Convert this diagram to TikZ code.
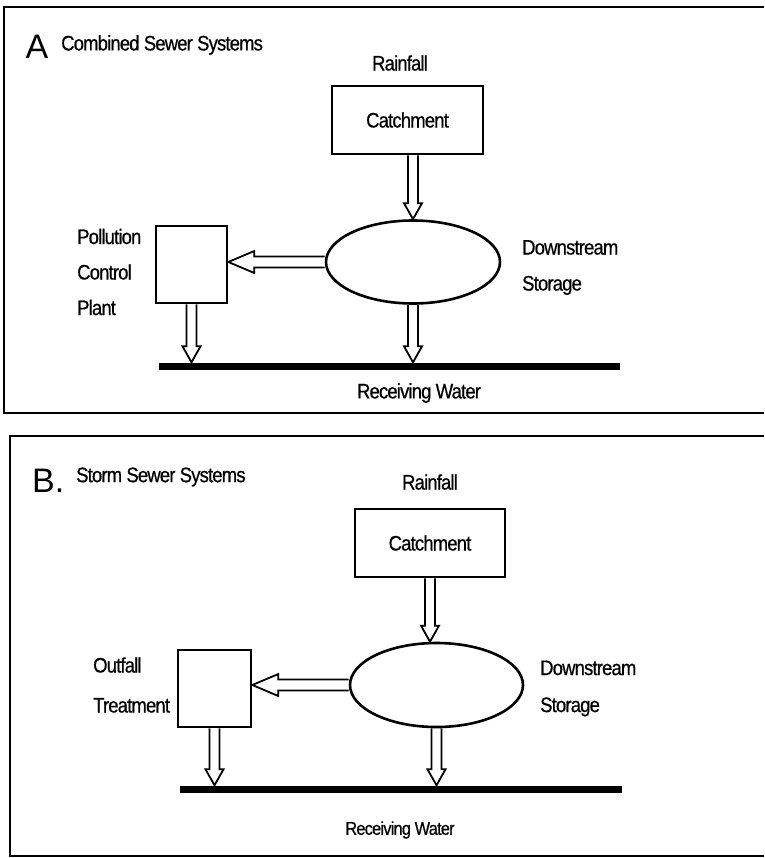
\documentclass[tikz,border=0pt]{standalone}
\usepackage{fontspec}
\setmainfont{Liberation Sans}
\newfontfamily\labelfont{Liberation Sans}[FakeStretch=0.88, LetterSpace=-4, FakeBold=0.6]
\usetikzlibrary{shapes.geometric,calc,positioning}

\tikzset{
  frame/.style={line width=1.2pt},
  box/.style={draw, rectangle, line width=2.6pt, inner sep=0pt},
  pool/.style={draw, ellipse, line width=2.6pt, inner sep=0pt},
  lbl/.style={font=\labelfont\fontsize{21}{24}\selectfont, inner sep=0pt},
  panel/.style={font=\fontsize{34}{38}\selectfont, inner sep=0pt},
  water/.style={fill=black, inner sep=0pt, minimum height=7pt},
  % hollow flow arrow: shaft half width, head half width, head length
  fat/.style n args={3}{line width=1.8pt, line join=miter,
    to path={let \p1=(\tikztostart), \p2=(\tikztotarget),
      \n1={veclen(\x2-\x1,\y2-\y1)}, \n2={atan2(\y2-\y1,\x2-\x1)} in
      ($(\p1)+(\n2+90:#1)$) -- ($(\p1)+(\n2:\n1-#3)+(\n2+90:#1)$)
      -- ($(\p1)+(\n2:\n1-#3)+(\n2+90:#2)$) -- (\p2)
      -- ($(\p1)+(\n2:\n1-#3)+(\n2-90:#2)$)
      -- ($(\p1)+(\n2:\n1-#3)+(\n2-90:#1)$) -- ($(\p1)+(\n2-90:#1)$)}},
  vflow/.style={fat={5pt}{9pt}{16pt}},
  hflow/.style={fat={5.5pt}{11pt}{26pt}}
}

\begin{document}
\begin{tikzpicture}[x=1pt, y=1pt]
    \useasboundingbox (0,0) rectangle (764,-858);

    % A: combined sewer systems
    \draw [frame] (764,-7) -- (4,-7) -- (4,-413) -- (764,-413);
    \node [panel] (letA) at (37,-47) {A};
    \node [lbl, anchor=west] (titleA) at (61,-45) {Combined Sewer Systems};
    \node [lbl] (rainA) at (400,-63) {Rainfall};
    \node [box, minimum width=151pt, minimum height=68pt, font=\labelfont\fontsize{21}{24}\selectfont] (catchA) at (407.5,-120) {Catchment};
    \node [pool, minimum width=174pt, minimum height=83pt] (stoA) at (413,-262) {};
    \node [box, minimum width=71pt, minimum height=77pt] (plantA) at (191.5,-264.5) {};
    \node [lbl, anchor=west, align=left, font=\labelfont\fontsize{21}{35.5}\selectfont] (plantlblA) at (77,-272) {Pollution\\Control\\Plant};
    \node [lbl, anchor=west, align=left, font=\labelfont\fontsize{21}{36}\selectfont] (stolblA) at (522,-267.5) {Downstream\\Storage};
    \node [water, minimum width=461pt] (waterA) at (389.5,-366) {};
    \node [lbl] (recvA) at (419,-393) {Receiving Water};

    \draw [vflow] (stoA.north |- catchA.south) to (stoA.north);
    \draw [hflow] (stoA.west) to (stoA.west -| plantA.east);
    \draw [vflow] (plantA.south) to (plantA.south |- waterA.north);
    \draw [vflow] (stoA.south) to (stoA.south |- waterA.north);

    % B: storm sewer systems
    \draw [frame] (764,-436) -- (10,-436) -- (10,-856) -- (764,-856);
    \node [panel, anchor=west] (letB) at (32,-481) {B.};
    \node [lbl, anchor=west] (titleB) at (76,-477) {Storm Sewer Systems};
    \node [lbl] (rainB) at (430,-482) {Rainfall};
    \node [box, minimum width=150pt, minimum height=68pt, font=\labelfont\fontsize{21}{24}\selectfont] (catchB) at (430,-543) {Catchment};
    \node [pool, minimum width=173pt, minimum height=84pt] (stoB) at (436.5,-685) {};
    \node [box, minimum width=73pt, minimum height=77pt] (outB) at (214.5,-688.5) {};
    \node [lbl, anchor=west, align=left, font=\labelfont\fontsize{21}{40}\selectfont] (outlblB) at (93,-685) {Outfall\\Treatment};
    \node [lbl, anchor=west, align=left, font=\labelfont\fontsize{21}{37}\selectfont] (stolblB) at (540,-688.5) {Downstream\\Storage};
    \node [water, minimum width=442pt] (waterB) at (401,-789) {};
    \node [lbl, font=\labelfont\fontsize{18.5}{22}\selectfont] (recvB) at (400,-830) {Receiving Water};

    \draw [vflow] (catchB.south) to (catchB.south |- stoB.north);
    \draw [hflow] (stoB.west) to (stoB.west -| outB.east);
    \draw [vflow] (outB.south) to (outB.south |- waterB.north);
    \draw [vflow] (stoB.south) to (stoB.south |- waterB.north);
\end{tikzpicture}
\end{document}
